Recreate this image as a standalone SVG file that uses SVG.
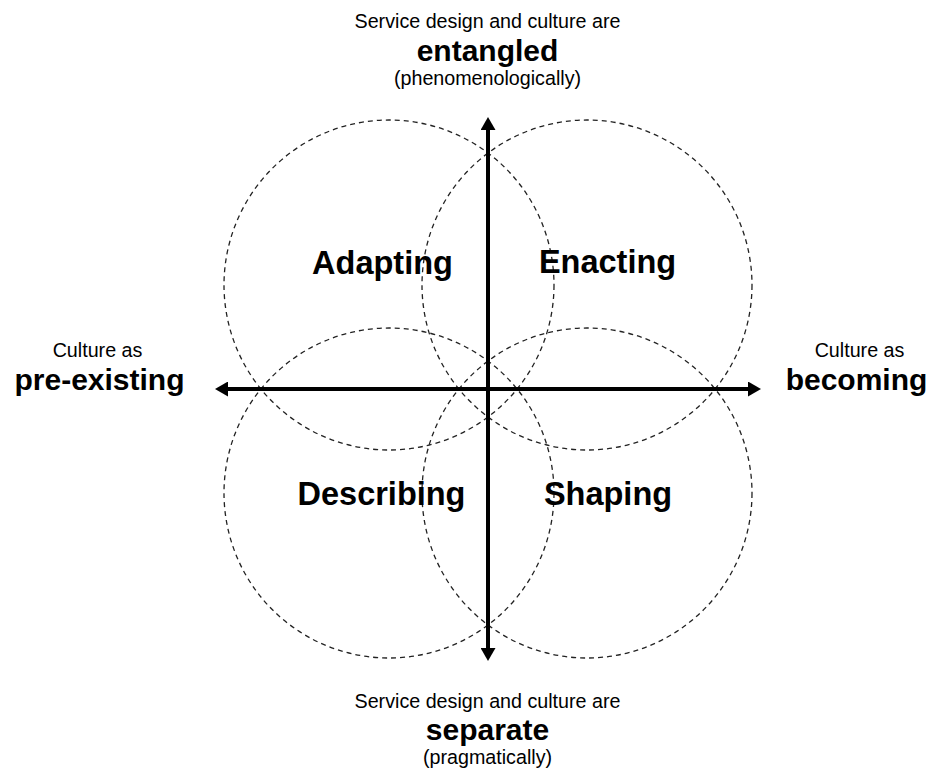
<svg xmlns="http://www.w3.org/2000/svg" width="936" height="775" viewBox="0 0 936 775">
  <style>
    .ring { fill: none; stroke: #222; stroke-width: 1.3; stroke-dasharray: 5 4; }
    .axis { stroke: #000; stroke-width: 4; fill: none; }
    .t { font-family: "Liberation Sans", Arial, Helvetica, sans-serif; fill: #000; text-anchor: middle; }
    .small { font-size: 19.7px; }
    .big { font-size: 30px; font-weight: bold; }
    .quad { font-size: 32.5px; font-weight: bold; }
  </style>
  <defs>
    <marker id="head" viewBox="0 0 13 15" refX="1" refY="7.5" markerWidth="13" markerHeight="15" markerUnits="userSpaceOnUse" orient="auto">
      <path d="M0,0 L13,7.5 L0,15 Z" fill="#000"/>
    </marker>
  </defs>
  <rect width="936" height="775" fill="#fff"/>

  <!-- four overlapping dashed circles -->
  <g id="circles">
    <circle class="ring" cx="389" cy="285" r="165"/>
    <circle class="ring" cx="587" cy="285" r="165"/>
    <circle class="ring" cx="389" cy="493" r="165"/>
    <circle class="ring" cx="587" cy="493" r="165"/>
  </g>

  <!-- the two double-headed axes -->
  <g id="connectors">
    <line class="axis" x1="488" y1="389" x2="488" y2="129" marker-end="url(#head)"/>
    <line class="axis" x1="488" y1="389" x2="488" y2="649" marker-end="url(#head)"/>
    <line class="axis" x1="488" y1="389" x2="227" y2="389" marker-end="url(#head)"/>
    <line class="axis" x1="488" y1="389" x2="749" y2="389" marker-end="url(#head)"/>
  </g>

  <g id="top-label">
    <text class="t small" x="487.5" y="28">Service design and culture are</text>
    <text class="t big" x="487.5" y="61">entangled</text>
    <text class="t small" x="487.5" y="85">(phenomenologically)</text>
  </g>

  <g id="bottom-label">
    <text class="t small" x="487.5" y="708">Service design and culture are</text>
    <text class="t big" x="487.5" y="740">separate</text>
    <text class="t small" x="487.5" y="764">(pragmatically)</text>
  </g>

  <g id="left-label">
    <text class="t small" x="97.5" y="357">Culture as</text>
    <text class="t big" x="99.5" y="390">pre-existing</text>
  </g>

  <g id="right-label">
    <text class="t small" x="859.5" y="357">Culture as</text>
    <text class="t big" x="856.5" y="390">becoming</text>
  </g>

  <g id="adapting">
    <text class="t quad" x="382.5" y="274">Adapting</text>
  </g>
  <g id="enacting">
    <text class="t quad" x="607.5" y="273">Enacting</text>
  </g>
  <g id="describing">
    <text class="t quad" x="381.5" y="505">Describing</text>
  </g>
  <g id="shaping">
    <text class="t quad" x="608" y="505">Shaping</text>
  </g>
</svg>
